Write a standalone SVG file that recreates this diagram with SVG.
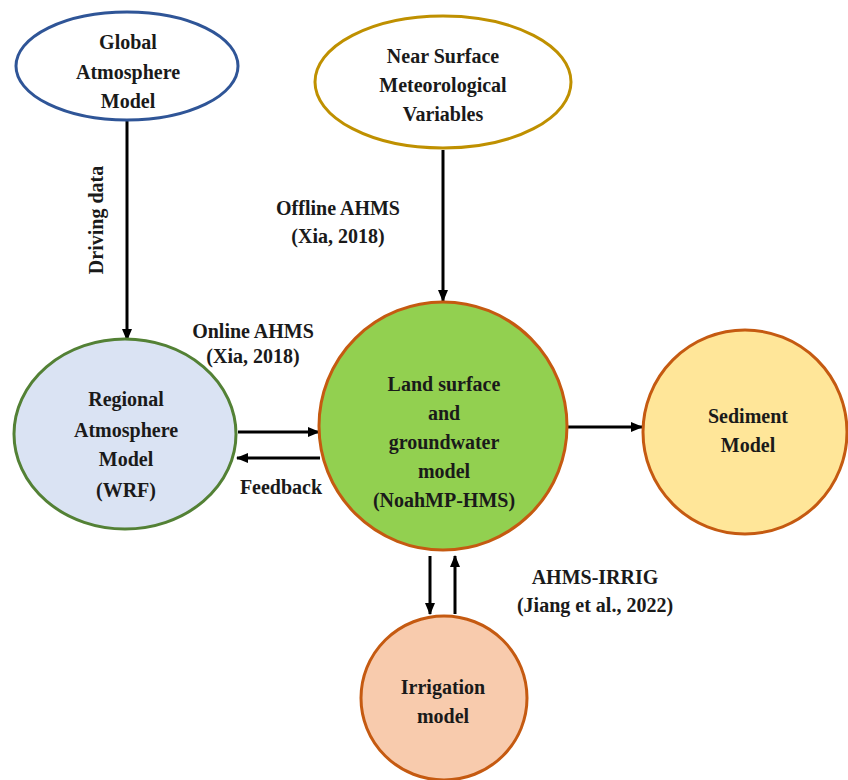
<svg xmlns="http://www.w3.org/2000/svg" width="848" height="780" viewBox="0 0 848 780">
<defs>
<marker id="ah" markerWidth="12" markerHeight="10" refX="11" refY="5" orient="auto" markerUnits="userSpaceOnUse">
<path d="M0,0 L12,5 L0,10 z" fill="#000"/>
</marker>
</defs>
<style>
text{font-weight:bold;font-size:20px;fill:#1a1a1a;text-anchor:middle}
.c{stroke:#000;stroke-width:3;fill:none}
.n{stroke-width:3}
</style>
<rect width="848" height="780" fill="#fff"/>
<g font-family="'Liberation Serif', 'DejaVu Serif', serif">
<g id="connectors">
<line class="c" x1="127" y1="121" x2="127" y2="340" marker-end="url(#ah)"/>
<line class="c" x1="443" y1="150" x2="443" y2="301" marker-end="url(#ah)"/>
<line class="c" x1="238" y1="432" x2="319" y2="432" marker-end="url(#ah)"/>
<line class="c" x1="320" y1="458" x2="237" y2="458" marker-end="url(#ah)"/>
<line class="c" x1="567" y1="427" x2="642" y2="427" marker-end="url(#ah)"/>
<line class="c" x1="430" y1="556" x2="430" y2="614" marker-end="url(#ah)"/>
<line class="c" x1="455" y1="614" x2="455" y2="556" marker-end="url(#ah)"/>
<text x="0" y="0" transform="translate(103,220) rotate(-90)">Driving data</text>
<text x="338" y="215">Offline AHMS</text>
<text x="338" y="243">(Xia, 2018)</text>
<text x="253" y="338">Online AHMS</text>
<text x="253" y="363">(Xia, 2018)</text>
<text x="281" y="494">Feedback</text>
<text x="595" y="584">AHMS-IRRIG</text>
<text x="595" y="612">(Jiang et al., 2022)</text>
</g>
<g id="global">
<ellipse class="n" cx="127" cy="66" rx="111" ry="54" fill="#fff" stroke="#2F5597"/>
<text x="128" y="49">Global</text>
<text x="128" y="79">Atmosphere</text>
<text x="128" y="108">Model</text>
</g>
<g id="nearsurface">
<ellipse class="n" cx="443" cy="82" rx="128" ry="66" fill="#fff" stroke="#BF9000"/>
<text x="443" y="63">Near Surface</text>
<text x="443" y="92">Meteorological</text>
<text x="443" y="121">Variables</text>
</g>
<g id="regional">
<ellipse class="n" cx="125" cy="434" rx="111" ry="95" fill="#DAE3F3" stroke="#538135"/>
<text x="126" y="406">Regional</text>
<text x="126" y="437">Atmosphere</text>
<text x="126" y="466">Model</text>
<text x="126" y="497">(WRF)</text>
</g>
<g id="land">
<circle class="n" cx="443" cy="426" r="124" fill="#92D050" stroke="#C55A11"/>
<text x="444" y="391">Land surface</text>
<text x="444" y="420">and</text>
<text x="444" y="449">groundwater</text>
<text x="444" y="478">model</text>
<text x="444" y="507">(NoahMP-HMS)</text>
</g>
<g id="sediment">
<circle class="n" cx="745" cy="432" r="102" fill="#FFE699" stroke="#C55A11"/>
<text x="748" y="423">Sediment</text>
<text x="748" y="452">Model</text>
</g>
<g id="irrigation">
<ellipse class="n" cx="444" cy="698" rx="83" ry="82" fill="#F8CBAD" stroke="#C55A11"/>
<text x="443" y="694">Irrigation</text>
<text x="443" y="723">model</text>
</g>
</g>
</svg>
